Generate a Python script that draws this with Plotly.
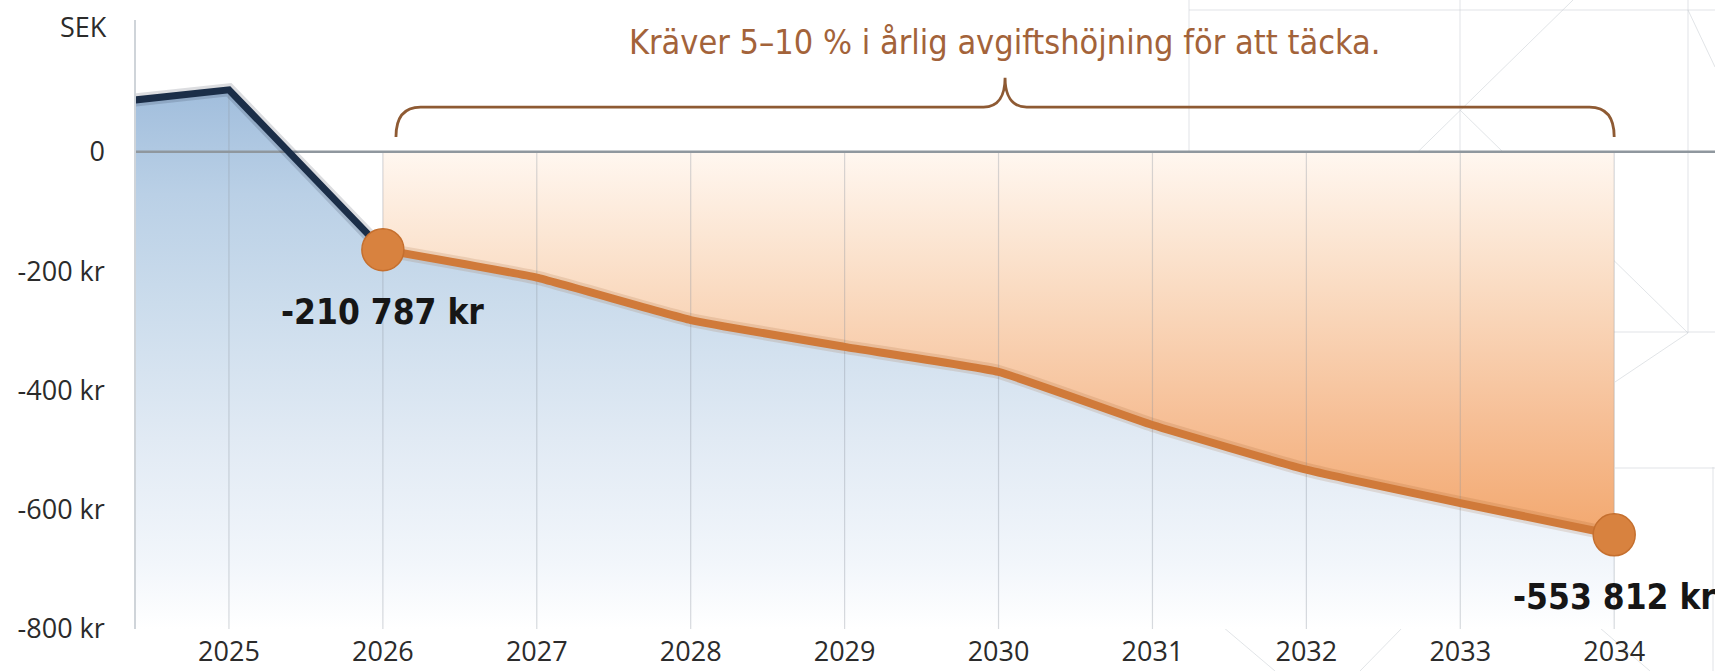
import plotly.graph_objects as go

# ---------------- data ----------------
years_hist = [2024, 2025, 2026]
values_hist = [76, 104, -164]
years_proj = [2026, 2027, 2028, 2029, 2030, 2031, 2032, 2033, 2034]
values_proj = [-164, -211, -282, -327, -369, -458, -533, -589, -642]
tick_years = [2025, 2026, 2027, 2028, 2029, 2030, 2031, 2032, 2033, 2034]
y_tickvals = [0, -200, -400, -600, -800]
y_ticktext = ["0", "-200 kr", "-400 kr", "-600 kr", "-800 kr"]
label_points = [(2026, -164, "-210 787 kr"), (2034, -642, "-553 812 kr")]
title_text = "Kräver 5–10 % i årlig avgiftshöjning för att täcka."

X_RANGE = [2024.396, 2034.655]
Y_RANGE = [-800, 221]

W, H = 1715, 671
ML, MR, MT, MB = 136, 0, 20, 42

NAVY = "#1b2e48"
ORANGE = "#d07a3a"
MARKER = "#d8823f"
BROWN = "#8e5a33"
TITLE_COL = "#a3633a"
TXT = "#2b2b2b"
COND = "DejaVu Sans Condensed, Liberation Sans Narrow, Roboto"
TICKFONT = "Open Sans"

fig = go.Figure()

all_x = years_hist[:-1] + years_proj
all_y = values_hist[:-1] + values_proj

# blue area under the whole line
fig.add_trace(go.Scatter(
    x=all_x + [all_x[-1], all_x[0]],
    y=all_y + [Y_RANGE[0], Y_RANGE[0]],
    fill="toself", mode="none", hoverinfo="skip", showlegend=False,
    fillgradient=dict(type="vertical", start=Y_RANGE[0], stop=110,
                      colorscale=[[0, "#ffffff"], [0.12, "#f2f6fb"], [0.35, "#e1eaf4"],
                                  [0.6, "#cbdcec"], [0.8, "#bad0e6"], [1, "#a0bddc"]]),
))

# orange area between zero and projection
fig.add_trace(go.Scatter(
    x=years_proj + [years_proj[-1], years_proj[0]],
    y=values_proj + [0, 0],
    fill="toself", mode="none", hoverinfo="skip", showlegend=False,
    fillgradient=dict(type="vertical", start=min(values_proj), stop=0,
                      colorscale=[[0, "#f3a86f"], [0.3, "#f6bf96"], [0.65, "#fadcc3"],
                                  [1, "#fff7f0"]]),
))

# vertical grid lines (from bottom to top of filled area)
gx, gy = [], []
lookup = dict(zip(all_x, all_y))
for yr in tick_years:
    top = max(0, lookup.get(yr, 0))
    gx += [yr, yr, None]
    gy += [Y_RANGE[0], top, None]
fig.add_trace(go.Scatter(x=gx, y=gy, mode="lines", hoverinfo="skip", showlegend=False,
                         line=dict(color="rgba(140,150,160,0.35)", width=1.2)))

# zero line
fig.add_trace(go.Scatter(x=X_RANGE, y=[0, 0], mode="lines", hoverinfo="skip", showlegend=False,
                         line=dict(color="#8f979e", width=2.5)))

# shadows
fig.add_trace(go.Scatter(x=years_hist, y=values_hist, mode="lines", hoverinfo="skip",
                         showlegend=False, line=dict(color="rgba(20,30,50,0.15)", width=13)))
fig.add_trace(go.Scatter(x=years_proj, y=values_proj, mode="lines", hoverinfo="skip",
                         showlegend=False,
                         line=dict(color="rgba(150,80,30,0.15)", width=14, shape="spline",
                                   smoothing=0.35)))

# lines
fig.add_trace(go.Scatter(x=years_hist, y=values_hist, mode="lines", hoverinfo="skip",
                         showlegend=False, line=dict(color=NAVY, width=7)))
fig.add_trace(go.Scatter(x=years_proj, y=values_proj, mode="lines", hoverinfo="skip",
                         showlegend=False,
                         line=dict(color=ORANGE, width=8, shape="spline", smoothing=0.35)))

# highlighted points
fig.add_trace(go.Scatter(
    x=[p[0] for p in label_points], y=[p[1] for p in label_points], mode="markers",
    hoverinfo="skip", showlegend=False,
    marker=dict(size=42, color=MARKER, line=dict(color="#c56f2e", width=1.5))))

annotations = []
for xv, yv, txt in label_points:
    annotations.append(dict(x=xv, y=yv, xref="x", yref="y", text=txt, showarrow=False,
                            xanchor="center", yanchor="middle", yshift=-62,
                            font=dict(family=COND, size=35, color="#161616", weight="bold")))

# bracket
bx0 = years_proj[0] + 0.085
bx1 = years_proj[-1]
bc = (bx0 + bx1) / 2
y_end, y_h, y_pk = 25, 75, 124
r = 0.16
r2 = 0.14
path = (f"M {bx0},{y_end} Q {bx0},{y_h} {bx0 + r},{y_h} "
        f"L {bc - r2},{y_h} C {bc - r2 * 0.3},{y_h} {bc},{y_h + 20} {bc},{y_pk} "
        f"C {bc},{y_h + 20} {bc + r2 * 0.3},{y_h} {bc + r2},{y_h} "
        f"L {bx1 - r},{y_h} Q {bx1},{y_h} {bx1},{y_end}")
shapes = [dict(type="path", path=path, xref="x", yref="y",
               line=dict(color=BROWN, width=2.8), layer="above")]

annotations.append(dict(x=bc, y=184, xref="x", yref="y", text=title_text, showarrow=False,
                        xanchor="center", yanchor="middle",
                        font=dict(family=COND, size=34, color=TITLE_COL)))

annotations.append(dict(x=0, y=210, xref="paper", yref="y", text="SEK", showarrow=False,
                        xanchor="right", yanchor="middle", xshift=-27,
                        font=dict(family=TICKFONT, size=27, color=TXT)))

# faint decorative background lines (pixel positions -> paper)
def px(xp):
    return (xp - ML) / (W - ML - MR)

def py(yp):
    return (H - MB - yp) / (H - MT - MB)

decor = [((1189, 10), (1715, 10)), ((1189, 0), (1189, 350)), ((1460, 0), (1460, 152)),
         ((1688, 0), (1688, 333)), ((1573, 0), (1243, 323)), ((1460, 110), (1688, 333)),
         ((1688, 333), (1615, 382)), ((1420, 332), (1715, 332)), ((1688, 10), (1715, 67)),
         ((1223, 627), (1275, 671)), ((1403, 627), (1360, 671)), ((1600, 628), (1650, 671)),
         ((1615, 468), (1715, 468)), ((1713, 467), (1713, 671))]
for (x0, y0), (x1, y1) in decor:
    shapes.append(dict(type="line", xref="paper", yref="paper", x0=px(x0), y0=py(y0),
                       x1=px(x1), y1=py(y1), line=dict(color="rgba(200,205,212,0.55)", width=1),
                       layer="below"))

fig.update_layout(
    width=W, height=H, margin=dict(l=ML, r=MR, t=MT, b=MB),
    paper_bgcolor="white", plot_bgcolor="white",
    shapes=shapes, annotations=annotations, showlegend=False,
    xaxis=dict(range=X_RANGE, tickvals=tick_years, ticktext=[str(y) for y in tick_years],
               showgrid=False, zeroline=False, showline=False, ticks="",
               tickfont=dict(family=TICKFONT, size=27, color=TXT), ticklabelstandoff=4),
    yaxis=dict(range=Y_RANGE, tickvals=y_tickvals, ticktext=y_ticktext, showgrid=False,
               zeroline=False, showline=True, linecolor="#cfd4d9", linewidth=1.5,
               ticks="", layer="above traces",
               tickfont=dict(family=TICKFONT, size=27, color=TXT), ticklabelstandoff=24),
)

fig.write_html("out.html", config={"displayModeBar": False},
               post_script="document.body.style.margin='0';document.body.style.padding='0';"
                           "document.documentElement.style.overflow='hidden';")
